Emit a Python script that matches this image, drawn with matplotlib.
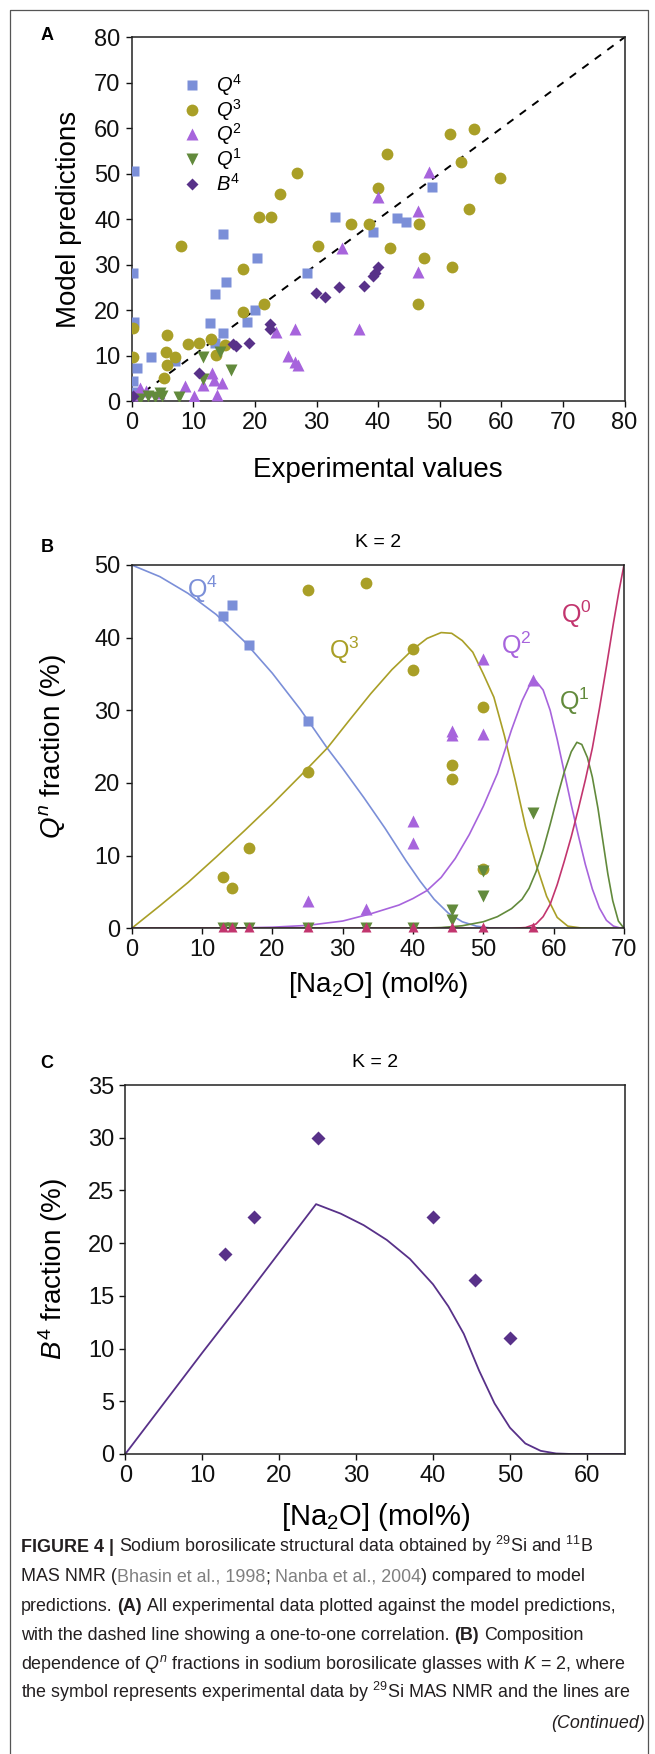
import matplotlib
matplotlib.use('Agg')
import matplotlib.pyplot as plt
from matplotlib.lines import Line2D

plt.rcParams['font.family'] = ['Liberation Sans', 'DejaVu Sans']
plt.rcParams['mathtext.fontset'] = 'custom'
plt.rcParams['mathtext.rm'] = 'Liberation Sans'
plt.rcParams['mathtext.it'] = 'Liberation Sans:italic'
plt.rcParams['mathtext.bf'] = 'Liberation Sans:bold'
plt.rcParams['axes.linewidth'] = 1.1
plt.rcParams['xtick.major.width'] = 1.0
plt.rcParams['ytick.major.width'] = 1.0
plt.rcParams['xtick.major.size'] = 4
plt.rcParams['ytick.major.size'] = 4

# ---- panel A: experimental vs model (all in %) ----
A_Q4_X = [0.3, 0.2, 0.3, 0.8, 0.2, 0.2, 3.2, 7.0, 12.7, 13.5, 13.5, 14.8, 14.9, 15.3, 18.7, 20.0, 20.3, 28.5, 33.0, 39.1, 43.1, 44.5, 48.8]
A_Q4_Y = [50.6, 28.2, 17.4, 7.2, 4.5, 2.0, 9.75, 8.9, 17.2, 23.5, 12.7, 36.7, 15.0, 26.2, 17.4, 20.0, 31.5, 28.2, 40.5, 37.2, 40.3, 39.4, 47.1]
A_Q3_X = [0.2, 0.2, 5.2, 5.6, 5.7, 5.7, 7.1, 8.0, 9.2, 11.0, 12.9, 13.7, 15.2, 18.0, 18.0, 20.6, 21.5, 22.6, 24.1, 26.8, 30.3, 35.6, 38.5, 40.0, 41.4, 42.0, 46.5, 46.7, 47.5, 51.7, 52.0, 53.4, 54.7, 55.6, 59.8]
A_Q3_Y = [16.0, 9.6, 5.0, 10.85, 14.5, 7.9, 9.75, 34.1, 12.5, 12.7, 13.6, 10.1, 12.3, 29.0, 19.6, 40.4, 21.3, 40.4, 45.5, 50.2, 34.1, 38.9, 38.9, 46.8, 54.3, 33.7, 21.3, 38.9, 31.4, 58.7, 29.5, 52.6, 42.2, 59.8, 49.0]
A_Q2_X = [0.3, 1.4, 2.4, 4.5, 8.7, 10.1, 11.6, 13.1, 13.4, 13.8, 14.6, 23.5, 25.4, 26.5, 26.5, 27.0, 34.1, 36.9, 40.0, 46.5, 46.5, 48.2]
A_Q2_Y = [1.3, 2.8, 2.1, 1.7, 3.2, 1.0, 3.5, 6.2, 4.6, 1.3, 3.9, 15.2, 10.0, 15.8, 8.6, 8.0, 33.6, 15.8, 44.8, 41.9, 28.4, 50.4]
A_Q1_X = [1.4, 2.7, 3.8, 4.6, 4.9, 7.7, 11.5, 11.6, 14.3, 16.1]
A_Q1_Y = [0.4, 1.0, 0.8, 1.7, 1.0, 0.8, 4.8, 9.75, 10.85, 6.8]
A_B4_X = [0.2, 11.0, 16.5, 17.0, 19.1, 22.5, 22.5, 29.9, 31.4, 33.7, 37.7, 39.1, 39.5, 40.0]
A_B4_Y = [1.0, 6.2, 12.5, 12.0, 12.7, 16.9, 15.8, 23.8, 22.9, 25.0, 25.4, 27.6, 28.2, 29.4]
A_DIAG = [0, 80]
A_LEGEND = [r'$\mathit{Q^4}$', r'$\mathit{Q^3}$', r'$\mathit{Q^2}$', r'$\mathit{Q^1}$', r'$\mathit{B^4}$']

# ---- panel B: Qn fractions vs [Na2O], K = 2 ----
B_Q4_X = [13.0, 14.3, 16.7, 25.0]
B_Q4_Y = [43.0, 44.5, 39.0, 28.5]
B_Q3_X = [13.0, 14.3, 16.7, 25.0, 25.0, 33.3, 40.0, 40.0, 45.5, 45.5, 50.0, 50.0]
B_Q3_Y = [7.0, 5.5, 11.0, 21.5, 46.5, 47.5, 38.5, 35.5, 22.5, 20.5, 30.5, 8.2]
B_Q2_X = [25.0, 33.3, 40.0, 40.0, 45.5, 45.5, 50.0, 50.0, 57.1]
B_Q2_Y = [3.8, 2.7, 14.7, 11.7, 27.2, 26.6, 37.1, 26.7, 34.2]
B_Q1_X = [13.0, 14.3, 16.7, 25.0, 33.3, 40.0, 45.5, 45.5, 50.0, 50.0, 57.1]
B_Q1_Y = [0.0, 0.0, 0.0, 0.0, 0.0, 0.0, 2.5, 1.1, 7.9, 4.4, 15.9]
B_Q0_X = [13.0, 14.3, 16.7, 25.0, 33.3, 40.0, 45.5, 50.0, 57.1]
B_Q0_Y = [0.2, 0.2, 0.2, 0.2, 0.2, 0.2, 0.2, 0.2, 0.2]
B_CURVE_LABELS = [r'$\mathregular{Q^4}$', r'$\mathregular{Q^3}$', r'$\mathregular{Q^2}$', r'$\mathregular{Q^1}$', r'$\mathregular{Q^0}$']

# model curves
M_Q4_X = [0, 4, 8, 12, 16, 20, 24, 27.8, 30, 33, 36, 39, 41, 43, 45, 47, 49, 51, 54, 70]
M_Q4_Y = [50, 48.4, 46.1, 43.2, 39.5, 35.1, 30.1, 24.8, 22.0, 18.0, 13.8, 9.3, 6.5, 4.0, 2.1, 0.9, 0.3, 0.05, 0, 0]
M_Q3_X = [0, 4, 8, 12, 16, 20, 24, 27.8, 31, 34, 37, 40, 42, 44, 45.5, 47, 48.5, 50, 51.5, 53, 54.5, 56, 57.5, 59, 60.5, 62, 64, 66, 70]
M_Q3_Y = [0, 3.1, 6.3, 9.8, 13.4, 17.1, 21.0, 24.8, 28.7, 32.3, 35.6, 38.4, 39.9, 40.7, 40.6, 39.6, 38.0, 35.0, 31.8, 26.5, 20.5, 14.0, 8.8, 4.4, 1.5, 0.3, 0.03, 0, 0]
M_Q2_X = [0, 15, 20, 25, 30, 34, 38, 40, 42, 44, 46, 48, 50, 52, 54, 55.5, 56.5, 57.5, 58.5, 59.5, 60.5, 61.5, 62.5, 63.5, 64.5, 65.5, 66.5, 67.5, 68.5, 69.5, 70]
M_Q2_Y = [0, 0.05, 0.15, 0.4, 1.0, 2.0, 3.2, 4.1, 5.2, 7.0, 9.6, 12.9, 16.8, 21.3, 27.3, 31.3, 33.3, 34.0, 32.8, 30.0, 26.0, 21.5, 17.0, 12.8, 8.8, 5.4, 2.8, 1.1, 0.3, 0.03, 0]
M_Q1_X = [0, 40, 44, 47, 50, 52, 54, 55.5, 56.5, 57.5, 58.5, 59.5, 60.5, 61.5, 62.5, 63.3, 64, 64.8, 65.5, 66.3, 67, 67.7, 68.4, 69.2, 70]
M_Q1_Y = [0, 0, 0.1, 0.35, 0.9, 1.6, 2.7, 4.0, 5.5, 7.8, 10.8, 14.3, 18.0, 21.5, 24.3, 25.6, 25.3, 23.5, 20.8, 16.5, 12.0, 7.5, 3.8, 1.0, 0]
M_Q0_X = [0, 54, 56, 57.5, 58.5, 59.5, 60.5, 61.5, 62.5, 63.5, 64.5, 65.5, 66.5, 67.5, 68.5, 69.3, 70]
M_Q0_Y = [0, 0, 0.1, 0.6, 1.6, 3.3, 6.0, 9.2, 12.6, 16.4, 20.4, 24.8, 30.2, 36.0, 42.0, 46.5, 50]

# ---- panel C: B4 fraction vs [Na2O], K = 2 ----
C_B4_X = [13.0, 16.7, 25.0, 40.0, 45.5, 50.0]
C_B4_Y = [19.0, 22.5, 30.0, 22.5, 16.5, 11.0]
M_B4_X = [0, 5, 10, 15, 20, 24.8, 28, 31, 34, 37, 40, 42, 44, 46, 48, 50, 52, 54, 56, 58, 65]
M_B4_Y = [0, 4.8, 9.6, 14.3, 19.1, 23.7, 22.8, 21.7, 20.3, 18.5, 16.1, 14.0, 11.4, 7.9, 4.8, 2.5, 1.0, 0.3, 0.05, 0, 0]

C_Q4 = '#7b8fd8'
C_Q3 = '#a99f27'
C_Q2 = '#a764dc'
C_Q1 = '#628a3c'
C_B4 = '#583189'
C_Q0 = '#c2356e'

W, H = 655, 1754
fig = plt.figure(figsize=(W / 100, H / 100), dpi=100)


def px_axes(l, t, r, b):
    return fig.add_axes([l / W, 1 - b / H, (r - l) / W, (b - t) / H])


def style(ax, size):
    ax.tick_params(labelsize=size, pad=4, colors='#111111')
    for s in ax.spines.values():
        s.set_color('#222222')


# ---------------- A ----------------
axA = px_axes(131.7, 37.3, 624.5, 401)
axA.plot(A_DIAG, A_DIAG, ls=(0, (4, 4)), color='black', lw=1.4, zorder=1)
series_A = [(A_Q4_X, A_Q4_Y, 's', C_Q4, 7.5), (A_Q3_X, A_Q3_Y, 'o', C_Q3, 8.5),
            (A_Q2_X, A_Q2_Y, '^', C_Q2, 9), (A_Q1_X, A_Q1_Y, 'v', C_Q1, 9),
            (A_B4_X, A_B4_Y, 'D', C_B4, 6.5)]
for xs, ys, mk, col, ms in series_A:
    axA.plot(xs, ys, mk, color=col, ms=ms, mec='none', zorder=3)
# hand-placed legend, as in the original
for i, ((xs, ys, mk, col, ms), lab) in enumerate(zip(series_A, A_LEGEND)):
    yy = 0.869 - i * 0.0678
    axA.plot([0.123], [yy], mk, color=col, ms=ms, mec='none', transform=axA.transAxes, clip_on=False)
    axA.text(0.172, yy, lab, fontsize=14.5, ha='left', va='center', transform=axA.transAxes)
axA.set_xlim(0, 80)
axA.set_ylim(0, 80)
axA.set_xticks(range(0, 81, 10))
axA.set_yticks(range(0, 81, 10))
style(axA, 17)
axA.set_xlabel('Experimental values', fontsize=20, va='center')
axA.xaxis.set_label_coords(0.5, -0.19)
axA.set_ylabel('Model predictions', fontsize=20, va='center')
axA.yaxis.set_label_coords(-0.127, 0.5)

# ---------------- B ----------------
axB = px_axes(131.7, 565, 624, 928.3)
for xs, ys, col in [(M_Q4_X, M_Q4_Y, C_Q4), (M_Q3_X, M_Q3_Y, C_Q3), (M_Q2_X, M_Q2_Y, C_Q2),
                    (M_Q1_X, M_Q1_Y, C_Q1), (M_Q0_X, M_Q0_Y, C_Q0)]:
    axB.plot(xs, ys, color=col, lw=1.2)
axB.plot(B_Q4_X, B_Q4_Y, 's', color=C_Q4, ms=7.5, mec='none', zorder=3)
axB.plot(B_Q3_X, B_Q3_Y, 'o', color=C_Q3, ms=8.5, mec='none', zorder=3)
axB.plot(B_Q2_X, B_Q2_Y, '^', color=C_Q2, ms=9, mec='none', zorder=3)
axB.plot(B_Q1_X, B_Q1_Y, 'v', color=C_Q1, ms=9, mec='none', zorder=3)
axB.plot(B_Q0_X, B_Q0_Y, '^', color=C_Q0, ms=7, mec='none', zorder=4, clip_on=False)
axB.set_xlim(0, 70)
axB.set_ylim(0, 50)
axB.set_xticks(range(0, 71, 10))
axB.set_yticks(range(0, 51, 10))
style(axB, 17)
axB.set_title('K = 2', fontsize=14, pad=13)
axB.set_xlabel(r'[Na$_2$O] (mol%)', fontsize=20, va='center')
axB.xaxis.set_label_coords(0.5, -0.155)
axB.set_ylabel(r'$Q^n$ fraction (%)', fontsize=20, va='center')
axB.yaxis.set_label_coords(-0.16, 0.5)
label_pos = [(7.8, 45.5), (28.1, 37.0), (52.5, 37.8), (60.8, 30.1), (61.1, 42.0)]
for txt, col, (lx, ly) in zip(B_CURVE_LABELS, [C_Q4, C_Q3, C_Q2, C_Q1, C_Q0], label_pos):
    axB.text(lx, ly, txt, color=col, fontsize=18, ha='left', va='baseline')

# ---------------- C ----------------
axC = px_axes(125.3, 1085, 625.3, 1454)
axC.plot(M_B4_X, M_B4_Y, color=C_B4, lw=1.3)
axC.plot(C_B4_X, C_B4_Y, 'D', color=C_B4, ms=7, mec='none', zorder=3)
axC.set_xlim(0, 65)
axC.set_ylim(0, 35)
axC.set_xticks(range(0, 61, 10))
axC.set_yticks(range(0, 36, 5))
style(axC, 17)
axC.set_title('K = 2', fontsize=14, pad=13)
axC.set_xlabel(r'[Na$_2$O] (mol%)', fontsize=21, va='center')
axC.xaxis.set_label_coords(0.5, -0.17)
axC.set_ylabel(r'$\mathit{B^4}$ fraction (%)', fontsize=20, va='center')
axC.yaxis.set_label_coords(-0.145, 0.5)

# panel letters
for letter, y in [('A', 35), ('B', 547), ('C', 1063)]:
    fig.text(47 / W, 1 - y / H, letter, fontsize=13, fontweight='bold', ha='center', va='center')

# outer frame
fig.add_artist(Line2D([10 / W, 10 / W, 648 / W, 648 / W], [0, 1 - 10 / H, 1 - 10 / H, 0],
                      transform=fig.transFigure, color='#555555', lw=0.9))

# caption
renderer = fig.canvas.get_renderer()
CAP_FAMILY = ['Liberation Sans Narrow', 'Liberation Sans']
cap_size = 12.9
DARK = '#231f20'
GREY = '#808080'


def rich_line(x, y, parts):
    sp = fig.text(0, 0, 'a a', fontsize=cap_size, family=CAP_FAMILY)
    sp2 = fig.text(0, 0, 'aa', fontsize=cap_size, family=CAP_FAMILY)
    space = sp.get_window_extent(renderer).width - sp2.get_window_extent(renderer).width
    sp.remove()
    sp2.remove()
    for s, kw, gap in parts:
        t = fig.text(x / W, 1 - y / H, s, fontsize=cap_size, family=CAP_FAMILY, va='baseline', ha='left',
                     color=kw.get('color', DARK), fontweight=kw.get('weight', 'normal'))
        x += t.get_window_extent(renderer).width + (space if gap else 0)


B = {'weight': 'bold'}
N = {}
G = {'color': GREY}
caption = [
    [('FIGURE 4 |', B, True), (r'Sodium borosilicate structural data obtained by $^{29}$Si and $^{11}$B', N, False)],
    [('MAS NMR (', N, False), ('Bhasin et al., 1998', G, False), (';', N, True), ('Nanba et al., 2004', G, False),
     (') compared to model', N, False)],
    [('predictions.', N, True), ('(A)', B, True), ('All experimental data plotted against the model predictions,', N, False)],
    [('with the dashed line showing a one-to-one correlation.', N, True), ('(B)', B, True), ('Composition', N, False)],
    [(r'dependence of $Q^n$ fractions in sodium borosilicate glasses with $K$ = 2, where', N, False)],
    [(r'the symbol represents experimental data by $^{29}$Si MAS NMR and the lines are', N, False)],
]
y0 = 1552
dy = 29.3
for i, parts in enumerate(caption):
    rich_line(21, y0 + i * dy, parts)
fig.text(645 / W, 1 - (y0 + 6 * dy) / H, '(Continued)', fontsize=cap_size, family=CAP_FAMILY,
         style='italic', color=DARK, ha='right', va='baseline')

fig.savefig('out.png', dpi=100)
